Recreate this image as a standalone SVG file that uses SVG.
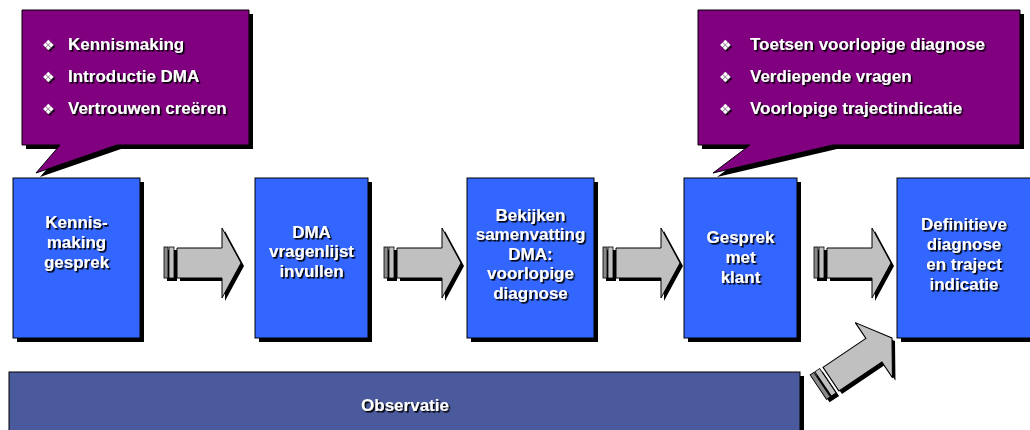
<svg xmlns="http://www.w3.org/2000/svg" xmlns:xlink="http://www.w3.org/1999/xlink" width="1030" height="430" viewBox="0 0 1030 430">
  <style>
    .lbl { font-family: "Liberation Sans", Arial, sans-serif; font-weight: bold; font-size: 17px; fill: #ffffff; filter: url(#txtShadow); }
    .box { fill: #3366ff; stroke: #000000; stroke-width: 1; }
    .shadow { fill: #000000; }
    .callout { fill: #800080; stroke: #000000; stroke-width: 1; }
    .bullet { font-family: "DejaVu Sans", sans-serif; font-size: 14px; fill: #ffffff; filter: url(#txtShadow); }
    .bar { fill: #4a5a9c; stroke: #000000; stroke-width: 1; }
  </style>
  <defs>
    <filter id="txtShadow" x="-10%" y="-20%" width="130%" height="150%">
      <feDropShadow dx="1.6" dy="1.6" stdDeviation="0" flood-color="#000000" flood-opacity="1"/>
    </filter>
    <g id="arrow">
      <rect x="-77" y="-16" width="4" height="31" fill="#8a8a8a" stroke="#000" stroke-width="0.8"/>
      <rect x="-72" y="-16" width="5" height="31" fill="#c0c0c0" stroke="#000" stroke-width="0.8"/>
      <polygon points="0,0 -19,-35 -19,-15 -64,-15 -64,15 -19,15 -19,35" fill="#c0c0c0" stroke="#000" stroke-width="1"/>
    </g>
    <g id="arrowSh">
      <rect x="-77" y="-16" width="10" height="31" fill="#000"/>
      <polygon points="0,0 -19,-35 -19,-15 -64,-15 -64,15 -19,15 -19,35" fill="#000"/>
    </g>
  </defs>

  <!-- Callout 1 -->
  <g id="callout1">
    <polygon class="shadow" points="26,14 253,14 253,149 121,149 40,177 64,149 26,149"/>
    <polygon class="callout" points="22,10 249,10 249,145 117,145 36,173 60,145 22,145"/>
    <text class="bullet" x="42" y="50">❖</text>
    <text class="lbl" x="68" y="50">Kennismaking</text>
    <text class="bullet" x="42" y="82">❖</text>
    <text class="lbl" x="68" y="82">Introductie DMA</text>
    <text class="bullet" x="42" y="114">❖</text>
    <text class="lbl" x="68" y="114">Vertrouwen creëren</text>
  </g>

  <!-- Callout 2 -->
  <g id="callout2">
    <polygon class="shadow" points="702,14 1024,14 1024,149 837,149 717,177 754,149 702,149"/>
    <polygon class="callout" points="698,10 1020,10 1020,145 833,145 713,173 750,145 698,145"/>
    <text class="bullet" x="719" y="50">❖</text>
    <text class="lbl" x="750" y="50">Toetsen voorlopige diagnose</text>
    <text class="bullet" x="719" y="82">❖</text>
    <text class="lbl" x="750" y="82">Verdiepende vragen</text>
    <text class="bullet" x="719" y="114">❖</text>
    <text class="lbl" x="750" y="114">Voorlopige trajectindicatie</text>
  </g>

  <!-- Observatie bar -->
  <g id="observatie">
    <rect class="shadow" x="13" y="376" width="791" height="60"/>
    <rect class="bar" x="9" y="372" width="791" height="62"/>
    <text class="lbl" x="405" y="411" text-anchor="middle">Observatie</text>
  </g>

  <!-- Connectors -->
  <g id="connectors">
    <use xlink:href="#arrowSh" transform="translate(244,266)"/>
    <use xlink:href="#arrow" transform="translate(241,263)"/>
    <use xlink:href="#arrowSh" transform="translate(464,266)"/>
    <use xlink:href="#arrow" transform="translate(461,263)"/>
    <use xlink:href="#arrowSh" transform="translate(683,266)"/>
    <use xlink:href="#arrow" transform="translate(680,263)"/>
    <use xlink:href="#arrowSh" transform="translate(894,266)"/>
    <use xlink:href="#arrow" transform="translate(891,263)"/>
    <use xlink:href="#arrowSh" transform="translate(895,341) rotate(-34) scale(1.15,0.95)"/>
    <use xlink:href="#arrow" transform="translate(892,338) rotate(-34) scale(1.15,0.95)"/>
  </g>

  <!-- Process boxes -->
  <g id="box1">
    <rect class="shadow" x="17" y="182" width="127" height="160"/>
    <rect class="box" x="13" y="178" width="127" height="160"/>
    <text class="lbl" x="76.5" y="228" text-anchor="middle">Kennis-</text>
    <text class="lbl" x="76.5" y="248" text-anchor="middle">making</text>
    <text class="lbl" x="76.5" y="268" text-anchor="middle">gesprek</text>
  </g>
  <g id="box2">
    <rect class="shadow" x="259" y="182" width="113" height="160"/>
    <rect class="box" x="255" y="178" width="113" height="160"/>
    <text class="lbl" x="311.5" y="238" text-anchor="middle">DMA</text>
    <text class="lbl" x="311.5" y="257" text-anchor="middle">vragenlijst</text>
    <text class="lbl" x="311.5" y="277" text-anchor="middle">invullen</text>
  </g>
  <g id="box3">
    <rect class="shadow" x="471" y="182" width="127" height="160"/>
    <rect class="box" x="467" y="178" width="127" height="160"/>
    <text class="lbl" x="530.5" y="221" text-anchor="middle">Bekijken</text>
    <text class="lbl" x="530.5" y="240" text-anchor="middle">samenvatting</text>
    <text class="lbl" x="530.5" y="260" text-anchor="middle">DMA:</text>
    <text class="lbl" x="530.5" y="279" text-anchor="middle">voorlopige</text>
    <text class="lbl" x="530.5" y="299" text-anchor="middle">diagnose</text>
  </g>
  <g id="box4">
    <rect class="shadow" x="688" y="182" width="113" height="160"/>
    <rect class="box" x="684" y="178" width="113" height="160"/>
    <text class="lbl" x="740.5" y="243" text-anchor="middle">Gesprek</text>
    <text class="lbl" x="740.5" y="263" text-anchor="middle">met</text>
    <text class="lbl" x="740.5" y="283" text-anchor="middle">klant</text>
  </g>
  <g id="box5">
    <rect class="shadow" x="901" y="182" width="134" height="160"/>
    <rect class="box" x="897" y="178" width="134" height="160"/>
    <text class="lbl" x="964" y="230" text-anchor="middle">Definitieve</text>
    <text class="lbl" x="964" y="250" text-anchor="middle">diagnose</text>
    <text class="lbl" x="964" y="270" text-anchor="middle">en traject</text>
    <text class="lbl" x="964" y="290" text-anchor="middle">indicatie</text>
  </g>
</svg>
